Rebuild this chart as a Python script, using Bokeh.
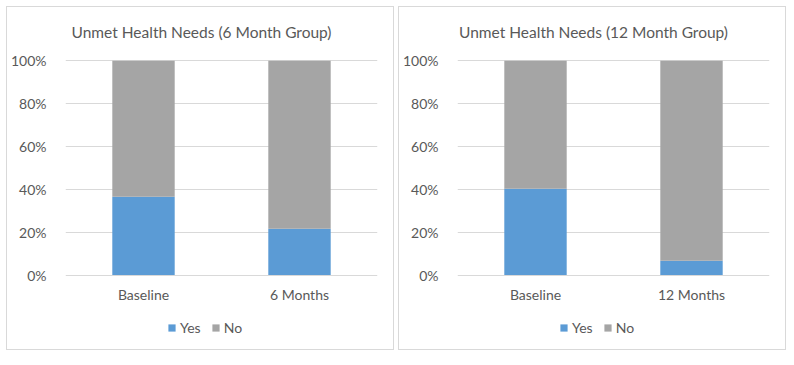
from bokeh.plotting import figure
from bokeh.layouts import row
from bokeh.models import (FactorRange, Range1d, FixedTicker, NumeralTickFormatter,
                          Legend, LegendItem, Label)
from bokeh.core.properties import value
from bokeh.embed import file_html
from bokeh.resources import INLINE

titles = ["Unmet Health Needs (6 Month Group)", "Unmet Health Needs (12 Month Group)"]
cats_6 = ["Baseline", "6 Months"]
cats_12 = ["Baseline", "12 Months"]
yes_6 = [0.366, 0.216]
no_6 = [0.634, 0.784]
yes_12 = [0.403, 0.067]
no_12 = [0.597, 0.933]
series = ["Yes", "No"]
y_ticks = [0.0, 0.2, 0.4, 0.6, 0.8, 1.0]

BLUE = "#5B9BD5"
GREY = "#A5A5A5"
TXT = "#595959"
GRID = "#D9D9D9"
FONT = "Lato"
FONT_V = value(FONT)

W, H = 386, 342          # canvas size (inside the 1px CSS border)
ML, MR = 57, 18          # frame left / right margins
TOP_PX, ZERO_PX = 53, 266  # pixel rows (from canvas top) of 100% and 0%
PX_PER_UNIT = ZERO_PX - TOP_PX
Y_END = 1 + TOP_PX / PX_PER_UNIT
Y_START = -(H - ZERO_PX) / PX_PER_UNIT


def make_panel(title, cats, yes, no):
    p = figure(x_range=FactorRange(*cats, range_padding=0),
               y_range=Range1d(Y_START, Y_END),
               width=W, height=H, output_backend="svg", toolbar_location=None,
               min_border_left=ML, min_border_right=MR, min_border_top=0,
               min_border_bottom=0, outline_line_color=None,
               styles={"border": "1px solid #D9D9D9", "box-sizing": "content-box"})
    data = {"cat": cats, "Yes": yes, "No": no}
    rs = p.vbar_stack(series, x="cat", width=0.4, color=[BLUE, GREY],
                      line_color=None, source=data)
    p.xaxis.visible = False
    p.yaxis.ticker = FixedTicker(ticks=y_ticks)
    p.yaxis.formatter = NumeralTickFormatter(format="0%")
    p.yaxis.major_tick_line_color = None
    p.yaxis.minor_tick_line_color = None
    p.yaxis.major_label_text_font = FONT
    p.yaxis.major_label_text_font_size = "14px"
    p.yaxis.major_label_text_color = TXT
    p.yaxis.axis_line_color = None
    p.yaxis.major_label_standoff = 13
    p.xgrid.grid_line_color = None
    p.ygrid.grid_line_color = GRID
    p.ygrid.ticker = FixedTicker(ticks=y_ticks)

    # category labels below the 0% line
    p.text(x=cats, y=[0] * len(cats), text=cats, y_offset=19,
           text_align="center", text_baseline="middle", text_font=FONT_V,
           text_font_size="14px", text_color=TXT)

    # chart title, centred over the whole panel
    p.add_layout(Label(x=W / 2 - ML, y=H - 22, x_units="screen", y_units="screen",
                       text=title, text_align="center", text_baseline="middle",
                       text_font=FONT, text_font_size="15.5px", text_color=TXT))

    legend = Legend(items=[LegendItem(label=s, renderers=[r]) for s, r in zip(series, rs)],
                    orientation="horizontal", location=(102, 15),
                    glyph_width=9, glyph_height=9, label_standoff=4, spacing=10,
                    padding=0, margin=0, border_line_color=None,
                    background_fill_alpha=0, label_text_font=FONT,
                    label_text_font_size="14px", label_text_color=TXT)
    p.add_layout(legend, "center")
    return p


p1 = make_panel(titles[0], cats_6, yes_6, no_6)
p2 = make_panel(titles[1], cats_12, yes_12, no_12)
layout = row(p1, p2, spacing=4, margin=(6, 0, 0, 6))

open("out.html", "w").write(file_html(layout, INLINE))
